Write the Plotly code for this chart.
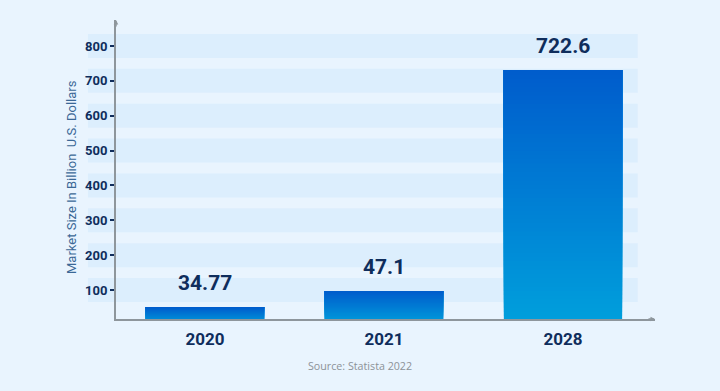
import plotly.graph_objects as go

# ---- data ----
categories = ["2020", "2021", "2028"]
value_labels = ["34.77", "47.1", "722.6"]
bar_heights = [51, 97, 731]          # drawn heights
y_ticks = [100, 200, 300, 400, 500, 600, 700, 800]
y_title = "Market Size In Billion  U.S. Dollars"
source_text = "Source: Statista 2022"

# ---- style ----
BG = "#e9f4fe"
BAND = "#dceefd"
NAVY = "#0f2d5c"
AXIS = "#8e969c"
TOP_RGB = (0, 92, 204)
BOT_RGB = (0, 160, 220)
N_SEG = 60

xs = list(range(len(categories)))

# gradient: each segment spans from its base to the bar top, drawn bottom-up
seg_x, seg_y, seg_base, seg_col = [], [], [], []
for i, h in enumerate(bar_heights):
    step = h / N_SEG
    for k in range(N_SEG):
        t = (k + 0.5) / N_SEG
        r = round(BOT_RGB[0] + (TOP_RGB[0] - BOT_RGB[0]) * t)
        g = round(BOT_RGB[1] + (TOP_RGB[1] - BOT_RGB[1]) * t)
        b = round(BOT_RGB[2] + (TOP_RGB[2] - BOT_RGB[2]) * t)
        seg_x.append(xs[i])
        seg_base.append(k * step)
        seg_y.append(h - k * step)
        seg_col.append(f"rgb({r},{g},{b})")

fig = go.Figure()
fig.add_trace(go.Bar(
    x=seg_x, y=seg_y, base=seg_base, width=0.66,
    marker=dict(color=seg_col, line=dict(width=0)),
    hoverinfo="skip", showlegend=False,
))

y_min, y_max = 16.8, 874.6
band_half = 34.4
shapes = []
for v in y_ticks:
    shapes.append(dict(type="rect", xref="paper", yref="paper",
                       x0=-0.052, x1=0.968,
                       y0=(v - band_half - y_min) / (y_max - y_min),
                       y1=(v + band_half - y_min) / (y_max - y_min),
                       fillcolor=BAND, line=dict(width=0), layer="below"))

annotations = []
for i, (h, lab) in enumerate(zip(bar_heights, value_labels)):
    annotations.append(dict(x=xs[i], y=h, xref="x", yref="y", text=lab,
                            showarrow=False, yanchor="bottom", yshift=10,
                            font=dict(family="Roboto", size=21, color=NAVY, weight="bold")))
# axis arrows
annotations.append(dict(x=0, y=1.0, xref="paper", yref="paper", ax=0, ay=8,
                        text="", showarrow=True,
                        arrowhead=2, arrowsize=0.6, arrowwidth=1.5, arrowcolor=AXIS))
annotations.append(dict(x=1.0, y=0, xref="paper", yref="paper", ax=-8, ay=0,
                        text="", showarrow=True,
                        arrowhead=2, arrowsize=0.6, arrowwidth=1.5, arrowcolor=AXIS))
# y title
annotations.append(dict(x=0, y=0.475, xref="paper", yref="paper", text=y_title,
                        textangle=-90, showarrow=False, xanchor="center", yanchor="middle",
                        xshift=-44,
                        font=dict(family="Roboto", size=13, color="#3b6896")))
annotations.append(dict(x=0.4527, y=-0.157, xref="paper", yref="paper", text=source_text,
                        showarrow=False, yanchor="middle", xanchor="center",
                        font=dict(family="Open Sans", size=10.7, color="#8c9298")))

fig.update_layout(
    width=720, height=391,
    margin=dict(l=116, r=65, t=20, b=72),
    paper_bgcolor=BG, plot_bgcolor="rgba(0,0,0,0)",
    barmode="overlay",
    shapes=shapes, annotations=annotations,
    xaxis=dict(range=[-0.497, 2.514], tickmode="array", tickvals=xs, ticktext=categories,
               showline=True, linecolor=AXIS, linewidth=2, showgrid=False, zeroline=False,
               ticks="", ticklabelstandoff=4,
               tickfont=dict(family="Roboto", size=17, color=NAVY, weight="bold")),
    yaxis=dict(range=[y_min, y_max], tickmode="array", tickvals=y_ticks,
               showline=True, linecolor=AXIS, linewidth=2, showgrid=False, zeroline=False,
               ticks="outside", ticklen=4, tickwidth=2, tickcolor=NAVY,
               tickfont=dict(family="Roboto", size=13, color=NAVY, weight="bold")),
)

fig.write_html("out.html", config={"displayModeBar": False},
               post_script="document.body.style.margin='0';document.body.style.overflow='hidden';")
